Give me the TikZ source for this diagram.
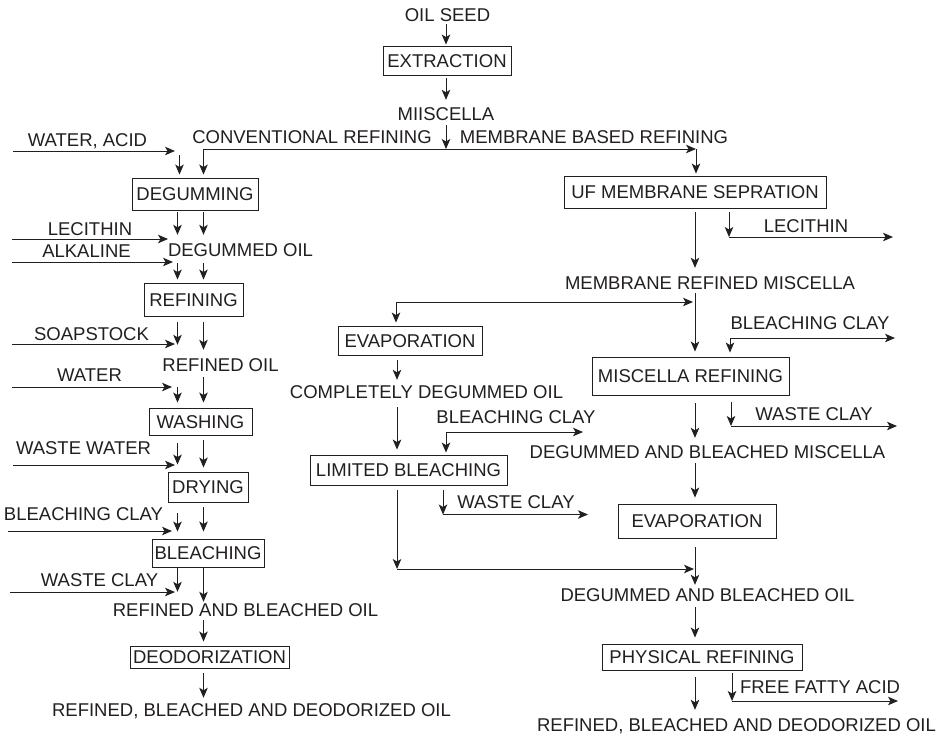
\documentclass[tikz,border=0pt]{standalone}
\usepackage{fontspec}
\setmainfont{Liberation Sans}
\usetikzlibrary{arrows.meta,calc}
\definecolor{ink}{RGB}{35,31,32}
\newcommand\vlink[5]{\draw[arr,shorten <=#4pt,shorten >=#5pt] (#1.south -| #3) -- (#2.north -| #3);}
\begin{document}
\begin{tikzpicture}[x=1pt,y=-1pt,
  lbl/.style={inner sep=0pt,text height=13.2pt,text depth=0pt,font=\fontsize{18.5}{20}\selectfont,text=ink},
  box/.style={lbl,draw=ink,line width=0.9pt},
  tip/.style={},
  arr/.style={draw=ink,line width=1pt,-{Stealth[length=10pt,width=8.5pt,inset=2.5pt]}},
  dbl/.style={draw=ink,line width=1pt,{Stealth[length=10pt,width=8.5pt,inset=2.5pt]}-{Stealth[length=10pt,width=8.5pt,inset=2.5pt]}}]
\fill[white] (0,0) rectangle (945,736);
\useasboundingbox (0,0) rectangle (945,736);

% columns
\coordinate (L1) at (177.5,0);
\coordinate (L2) at (203.5,0);
\coordinate (C0) at (446,0);
\coordinate (M1) at (397,0);
\coordinate (R1) at (695,0);

% ---------- top ----------
\node[lbl] (seed) at (447.5,15) {OIL SEED};
\node[box,minimum width=128pt,minimum height=29pt] (extr) at (447,60.5) {EXTRACTION};
\node[lbl] (miis) at (446,114) {MIISCELLA};
\node[lbl] (conv) at (312,137) {CONVENTIONAL REFINING};
\node[lbl] (memb) at (594,137) {MEMBRANE BASED REFINING};
\coordinate (jn) at (446,149);
\coordinate (jr) at (696,149);

% ---------- left column ----------
\node[lbl] (wacid) at (87.5,140) {WATER, ACID};
\node[box,minimum width=126pt,minimum height=32pt] (degum) at (195,194) {DEGUMMING};
\node[lbl] (lecL) at (90,229) {LECITHIN};
\node[lbl] (degoil) at (240.5,250) {DEGUMMED OIL};
\node[lbl] (alk) at (86.5,251) {ALKALINE};
\node[box,minimum width=99pt,minimum height=33pt] (refin) at (193.5,299.5) {REFINING};
\node[lbl] (soap) at (91.5,334) {SOAPSTOCK};
\node[lbl] (refoil) at (220.5,365) {REFINED OIL};
\node[lbl] (water) at (89.5,375) {WATER};
\node[box,minimum width=103pt,minimum height=27pt] (wash) at (200.5,421.5) {WASHING};
\node[lbl] (wwater) at (83.5,448) {WASTE WATER};
\node[box,minimum width=80pt,minimum height=30pt] (dry) at (208,487) {DRYING};
\node[lbl] (bclayL) at (83.5,514) {BLEACHING CLAY};
\node[box,minimum width=112pt,minimum height=28pt] (bleach) at (208,553) {BLEACHING};
\node[lbl] (wclayL) at (99.5,580) {WASTE CLAY};
\node[lbl] (rbo) at (245.5,610) {REFINED AND BLEACHED OIL};
\node[box,minimum width=159pt,minimum height=22pt] (deodor) at (209.5,657) {DEODORIZATION};
\node[lbl] (rbdL) at (251.5,710) {REFINED, BLEACHED AND DEODORIZED OIL};

% ---------- right part ----------
\node[box,minimum width=262pt,minimum height=32pt] (uf) at (695,192) {UF MEMBRANE SEPRATION};
\node[lbl] (lecR) at (806,226) {LECITHIN};
\node[lbl] (mrm) at (710,283) {MEMBRANE REFINED MISCELLA};
\node[lbl] (bclayR) at (810,323) {BLEACHING CLAY};
\node[box,minimum width=144pt,minimum height=29pt] (evapL) at (410,340.5) {EVAPORATION};
\node[box,minimum width=197pt,minimum height=38pt] (misr) at (690.5,376) {MISCELLA REFINING};
\node[lbl] (cdo) at (426.5,392) {COMPLETELY DEGUMMED OIL};
\node[lbl] (bclayM) at (516,417) {BLEACHING CLAY};
\node[lbl] (wclayR) at (814,414) {WASTE CLAY};
\node[lbl] (dbm) at (707.5,452) {DEGUMMED AND BLEACHED MISCELLA};
\node[box,minimum width=197pt,minimum height=30pt] (limb) at (408.5,470) {LIMITED BLEACHING};
\node[lbl] (wclayM) at (516,502) {WASTE CLAY};
\node[box,minimum width=158pt,minimum height=34pt] (evapR) at (697,521) {EVAPORATION};
\node[lbl] (dbo) at (707.5,595) {DEGUMMED AND BLEACHED OIL};
\node[box,minimum width=200pt,minimum height=26pt] (phys) at (702,657) {PHYSICAL REFINING};
\node[lbl] (ffa) at (820,687) {FREE FATTY ACID};
\node[lbl] (rbdR) at (736.5,725) {REFINED, BLEACHED AND DEODORIZED OIL};

% ---------- top connectors ----------
\vlink{seed}{extr}{C0}{2.4}{1}
\vlink{extr}{miis}{C0}{3}{7.4}
\draw[arr,shorten <=4.4pt] (miis.south -| C0) -- (jn);
\draw[arr,shorten >=3pt] (jn) -| (degum.north -| L2);
\draw[arr] (jn) -- (jr);
\draw[arr,shorten >=2pt] (jr) -- (uf.north -| jr);

% ---------- left column connectors ----------
\coordinate (inWA) at (13,151);
\coordinate (wa2) at (179.5,155);
\coordinate (inLe) at (12,239);
\coordinate (inAl) at (12,262);
\coordinate (inSo) at (12,344);
\coordinate (inWa) at (12,387);
\coordinate (inWW) at (13,465);
\coordinate (inBC) at (8,531);
\coordinate (inWC) at (10,592);
\draw[arr,shorten >=2.5pt] (inWA) -- (inWA -| L1);
\draw[arr,shorten >=3pt] (wa2) -- (degum.north -| wa2);
\draw[arr,shorten >=9.5pt] (inLe) -- (inLe -| L1);
\draw[arr,shorten >=4.5pt] (inAl) -- (inAl -| L1);
\draw[arr,shorten >=2.5pt] (inSo) -- (inSo -| L1);
\draw[arr,shorten >=5.5pt] (inWa) -- (inWa -| L1);
\draw[arr,shorten >=2.5pt] (inWW) -- (inWW -| L1);
\draw[arr,shorten >=5.5pt] (inBC) -- (inBC -| L1);
\draw[arr,shorten >=2.5pt] (inWC) -- (inWC -| L1);

\vlink{degum}{degoil}{L1}{2}{8.4}
\vlink{degum}{degoil}{L2}{2}{8.4}
\vlink{degoil}{refin}{L1}{6.4}{3}
\vlink{degoil}{refin}{L2}{6.4}{3}
\vlink{refin}{refoil}{L1}{6}{13.4}
\vlink{refin}{refoil}{L2}{6}{8.4}
\vlink{refoil}{wash}{L1}{15.4}{5}
\vlink{refoil}{wash}{L2}{5.4}{5}
\vlink{wash}{dry}{L1}{8}{7}
\vlink{wash}{dry}{L2}{5}{4}
\vlink{dry}{bleach}{L1}{11}{7}
\vlink{dry}{bleach}{L2}{5}{7}
\vlink{bleach}{rbo}{L1}{1}{11.4}
\vlink{bleach}{rbo}{L2}{1}{1.4}
\vlink{rbo}{deodor}{L2}{3.4}{4}
\vlink{deodor}{rbdL}{L2}{5}{5.4}

% ---------- right connectors ----------
\coordinate (lecS) at (729,237);
\coordinate (lecE) at (893,237);
\vlink{uf}{mrm}{R1}{4}{8.4}
\draw[arr,shorten <=4pt] (uf.south -| lecS) -- (lecS);
\draw[arr] (lecS) -- (lecE);

\vlink{mrm}{misr}{R1}{3.4}{5}
\coordinate (brR) at (693,302);
\coordinate (brL) at (396,302);
\draw[dbl,shorten >=3pt] (brR) -- (brL) -- (brL |- evapL.north);

\coordinate (bcS) at (730,338);
\coordinate (bcE) at (895,338);
\draw[dbl,shorten >=4pt] (bcE) -- (bcS) -- (bcS |- misr.north);

\vlink{evapL}{cdo}{M1}{5}{5.4}
\vlink{cdo}{limb}{M1}{8.4}{5}
\coordinate (bmS) at (446,432);
\coordinate (bmE) at (583,432);
\draw[dbl,shorten >=2pt] (bmE) -- (bmS) -- (bmS |- limb.north);

\coordinate (wmS) at (443,514.5);
\coordinate (wmE) at (588,514.5);
\draw[arr,shorten <=5pt] (limb.south -| wmS) -- (wmS);
\draw[arr] (wmS) -- (wmE);

\coordinate (jl) at (397,569);
\coordinate (jr2) at (694,569);
\draw[arr,shorten <=5pt] (limb.south -| jl) -- (jl);
\draw[arr] (jl) -- (jr2);

\vlink{misr}{dbm}{R1}{8}{7.4}
\coordinate (wrS) at (731,426);
\coordinate (wrE) at (897,426);
\draw[arr,shorten <=7pt] (misr.south -| wrS) -- (wrS);
\draw[arr] (wrS) -- (wrE);

\vlink{dbm}{evapR}{R1}{4.4}{6}
\vlink{evapR}{dbo}{R1}{9}{3.4}
\vlink{dbo}{phys}{R1}{5.4}{6}
\vlink{phys}{rbdR}{R1}{7}{8.4}
\coordinate (ffS) at (732,701);
\coordinate (ffE) at (898,701);
\draw[arr,shorten <=3pt] (phys.south -| ffS) -- (ffS);
\draw[arr] (ffS) -- (ffE);
\end{tikzpicture}
\end{document}
